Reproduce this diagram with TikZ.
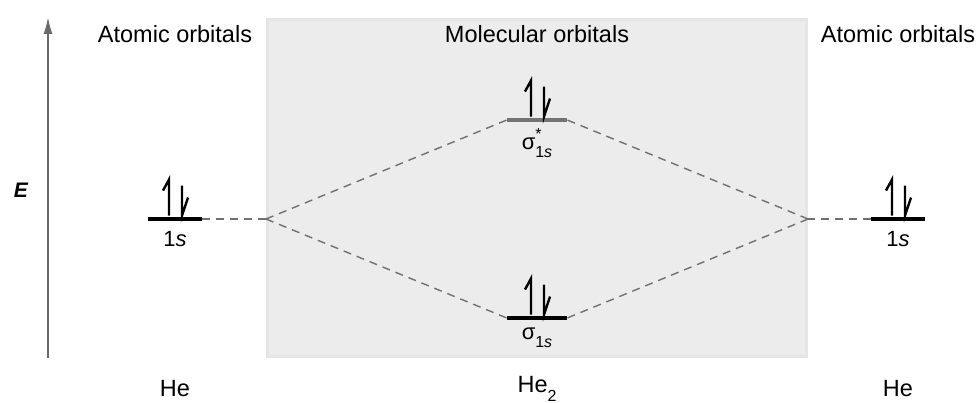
\documentclass[tikz,border=0pt]{standalone}
\usepackage{fontspec}
\setmainfont{Liberation Sans}
\usetikzlibrary{arrows.meta}
\definecolor{boxgray}{HTML}{ECECEC}
\definecolor{dashgray}{HTML}{707070}
\definecolor{axisgray}{HTML}{6A6A6A}
\newcommand\sublbl[1]{\raisebox{-0.35em}{\fontsize{16}{16}\selectfont #1}}
\newcommand\starsub[1]{\rlap{\raisebox{0.45em}{\fontsize{16}{16}\selectfont *}}\raisebox{-0.35em}{\fontsize{16}{16}\selectfont #1}}
\begin{document}
\begin{tikzpicture}[x=1pt,y=-1pt,
  txt/.style={font=\fontsize{23.5}{26}\selectfont, inner sep=0pt, anchor=center},
  lbl/.style={font=\fontsize{22}{24}\selectfont, inner sep=0pt, anchor=center},
  lvl/.style={fill=black, minimum width=54pt, minimum height=4.5pt, inner sep=0pt},
  lvlgray/.style={fill=black!55, minimum width=60pt, minimum height=4.5pt, inner sep=0pt},
  conn/.style={draw=dashgray, line width=1.4pt, dash pattern=on 8pt off 6pt},
  elec/.style={line width=2.4pt, line cap=butt, line join=miter}
]
\useasboundingbox (0,0) rectangle (979,403);
% molecular box
\fill[boxgray] (266,18) rectangle (808,358);
\draw[black!10, line width=3pt] (267.5,19.5) rectangle (806.5,356.5);
% energy axis
\draw[axisgray, line width=1.6pt, -{Latex[length=17pt,width=9pt]}] (48,358) -- (48,17);
\node[txt, font=\fontsize{21}{24}\selectfont\bfseries\itshape] (E) at (21,190) {E};
% headers
\node[txt] (hl) at (175,34) {Atomic orbitals};
\node[txt] (hm) at (537,34) {Molecular orbitals};
\node[txt] (hr) at (898,34) {Atomic orbitals};
% bottom labels
\node[txt] (bl) at (175,389) {He};
\node[txt] (bm) at (537,389) {He\sublbl{2}};
\node[txt] (br) at (898,389) {He};
% levels
\node[lvl] (L) at (175,219) {};
\node[lvl] (R) at (898,219) {};
\node[lvlgray] (S2) at (537,120) {};
\node[lvl, minimum width=60pt] (S1) at (537,318) {};
% level labels
\node[lbl] (Ll) at (175,239) {1\textit{s}};
\node[lbl] (Rl) at (898,239) {1\textit{s}};
\node[lbl] (S2l) at (537,143) {σ\starsub{1\textit{s}}};
\node[lbl] (S1l) at (537,338) {σ\sublbl{1\textit{s}}};
% junctions
\coordinate (JL) at (266,219);
\coordinate (JR) at (808,219);
% connectors
\draw[conn] (L.east) -- (JL);
\draw[conn] (JL) -- (S2.west);
\draw[conn] (JL) -- (S1.west);
\draw[conn] (R.west) -- (JR);
\draw[conn] (JR) -- (S2.east);
\draw[conn] (JR) -- (S1.east);
% electrons
\newcommand\elpair[1]{%
  \draw[elec] ([shift={(-6,-1)}]#1.north) -- ++(0,-36) -- ++(-6,11);
  \draw[elec] ([shift={(7,-31)}]#1.north) -- ++(0,30) -- ++(6,-18);
}
\elpair{L}
\elpair{R}
\elpair{S2}
\elpair{S1}
\end{tikzpicture}
\end{document}
